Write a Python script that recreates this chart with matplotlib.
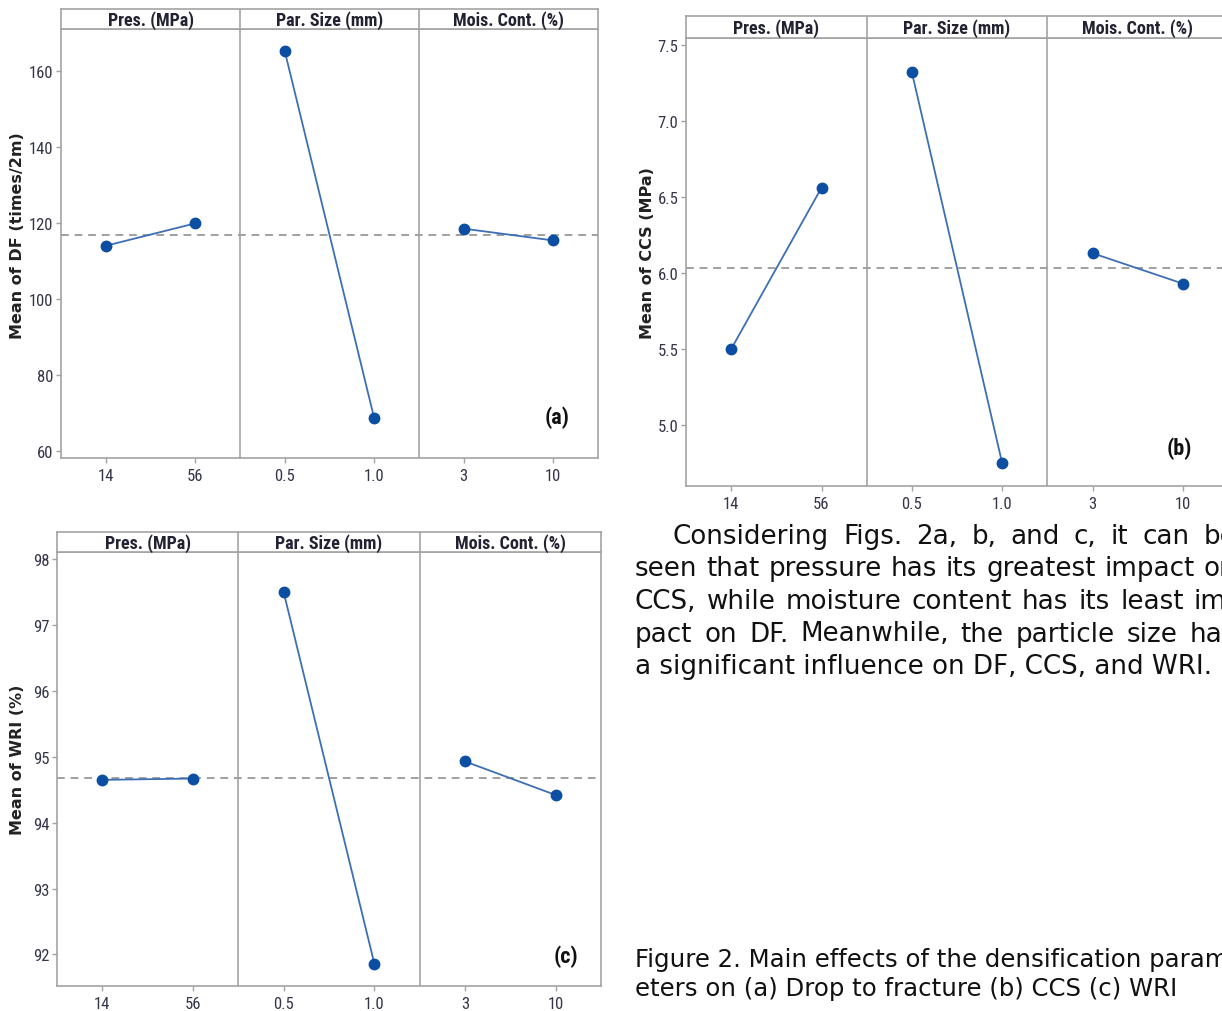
import matplotlib
matplotlib.use("Agg")
import matplotlib.pyplot as plt
from matplotlib import font_manager
import numpy as np

# ---------------- data ----------------
factors = ["Pres. (MPa)", "Par. Size (mm)", "Mois. Cont. (%)"]
level_labels = ["14", "56", "0.5", "1.0", "3", "10"]

df_means = [114.0, 119.9, 165.2, 68.6, 118.5, 115.4]
ccs_means = [5.50, 6.56, 7.32, 4.75, 6.13, 5.93]
wri_means = [94.65, 94.67, 97.50, 91.86, 94.93, 94.42]

df_ticks = [60, 80, 100, 120, 140, 160]
ccs_ticks = [5.0, 5.5, 6.0, 6.5, 7.0, 7.5]
wri_ticks = [92, 93, 94, 95, 96, 97, 98]

body_lines = [
    "Considering Figs. 2a, b, and c, it can be",
    "seen that pressure has its greatest impact on",
    "CCS, while moisture content has its least im-",
    "pact on DF. Meanwhile, the particle size has",
    "a significant influence on DF, CCS, and WRI.",
]
caption_lines = [
    "Figure 2. Main effects of the densification param-",
    "eters on (a) Drop to fracture (b) CCS (c) WRI",
]

# ---------------- styling ----------------
W, H = 1222, 1012
fig = plt.figure(figsize=(W / 100, H / 100), dpi=100)
fig.patch.set_facecolor("white")

available = set(f.name for f in font_manager.fontManager.ttflist)
narrow = "DejaVu Sans"
for cand in ["Roboto Condensed", "PT Sans Narrow", "Fira Sans Condensed",
             "IBM Plex Sans Condensed", "Archivo Narrow", "Barlow Semi Condensed",
             "Encode Sans Condensed", "Asap Condensed", "Liberation Sans Narrow",
             "Open Sans Condensed"]:
    if cand in available:
        narrow = cand
        break

FRAME = "#a3a3a3"
LINE = "#3d6fb5"
MARK = "#0b4ea2"
MEANC = "#a0a0a0"
TICKC = "#34344a"


def px_axes(x0, y0, x1, y1):
    return fig.add_axes([x0 / W, 1 - y1 / H, (x1 - x0) / W, (y1 - y0) / H])


def panel(x0, x1, ytop, yhead, ybot, values, yticks, ylim, fmt, tag, tagpos):
    ax = px_axes(x0, yhead, x1, ybot)
    hx = px_axes(x0, ytop, x1, yhead)
    xs = np.arange(6)
    for k in range(3):
        ax.plot(xs[2 * k:2 * k + 2], values[2 * k:2 * k + 2], color=LINE, lw=1.3, zorder=3)
        ax.plot(xs[2 * k:2 * k + 2], values[2 * k:2 * k + 2], "o", color=MARK,
                ms=7.5, zorder=4)
    ax.axhline(np.mean(values), color=MEANC, ls=(0, (4, 3)), lw=1.4, zorder=2)
    for d in (1.5, 3.5):
        ax.axvline(d, color=FRAME, lw=1.2, zorder=1)
        hx.axvline(d, color=FRAME, lw=1.2)
    ax.set_xlim(-0.5, 5.5)
    ax.set_ylim(*ylim)
    ax.set_xticks(xs)
    ax.set_xticklabels(level_labels)
    ax.set_yticks(yticks)
    ax.set_yticklabels([fmt.format(t) for t in yticks])
    ax.tick_params(axis="both", colors=FRAME, length=3.5, width=1, labelcolor=TICKC,
                   labelsize=12)
    ax.tick_params(axis="x", pad=4)
    ax.tick_params(axis="y", pad=2)
    for lab in ax.get_xticklabels() + ax.get_yticklabels():
        lab.set_family(narrow)
    for s in ax.spines.values():
        s.set_color(FRAME)
        s.set_linewidth(1.2)
    hx.set_xlim(-0.5, 5.5)
    hx.set_ylim(0, 1)
    hx.set_xticks([])
    hx.set_yticks([])
    for s in hx.spines.values():
        s.set_color(FRAME)
        s.set_linewidth(1.2)
    for k, f in enumerate(factors):
        hx.text(0.5 + 2 * k, 0.47, f, ha="center", va="center", fontsize=13,
                family=narrow, color="#222233", fontweight="semibold")
    fig.text(tagpos[0] / W, 1 - tagpos[1] / H, tag, ha="center", va="center",
             fontsize=16, family=narrow, fontweight="bold", color="#111111")
    return ax


# panel (a)
panel(61, 598, 10, 30, 459, df_means, df_ticks, (58.2, 171.0), "{:.0f}", "(a)", (557, 418))
fig.text(18 / W, 1 - 236 / H, "Mean of DF (times/2m)", rotation=90, ha="center",
         va="center", fontsize=11.5, fontweight="bold", color="#222222")

# panel (b)
panel(686, 1228, 17, 39, 487, ccs_means, ccs_ticks, (4.60, 7.544), "{:.1f}", "(b)", (1179, 449))
fig.text(647 / W, 1 - 253 / H, "Mean of CCS (MPa)", rotation=90, ha="center",
         va="center", fontsize=11.5, fontweight="bold", color="#222222")

# panel (c)
panel(57, 601, 533, 553, 987, wri_means, wri_ticks, (91.52, 98.11), "{:.0f}", "(c)", (566, 957))
fig.text(18 / W, 1 - 760 / H, "Mean of WRI (%)", rotation=90, ha="center",
         va="center", fontsize=11.5, fontweight="bold", color="#222222")

# ---------------- justified body text ----------------
renderer = fig.canvas.get_renderer()


def justified(line, x_left, x_right, y, size, justify=True):
    words = line.split(" ")
    if not justify:
        fig.text(x_left / W, 1 - y / H, line, ha="left", va="center", fontsize=size,
                 color="#111111", family="DejaVu Sans")
        return
    arts = []
    widths = []
    for w_ in words:
        t = fig.text(0, 0, w_, ha="left", va="center", fontsize=size,
                     color="#111111", family="DejaVu Sans")
        bb = t.get_window_extent(renderer=renderer)
        arts.append(t)
        widths.append(bb.width)
    gap = (x_right - x_left - sum(widths)) / (len(words) - 1)
    x = x_left
    for t, wd in zip(arts, widths):
        t.set_position((x / W, 1 - y / H))
        x += wd + gap


BODY_SIZE = 18.8
for i, line in enumerate(body_lines):
    x = 673 if i == 0 else 635
    justified(line, x, 1236, 537 + 32.5 * i, BODY_SIZE, justify=(i < len(body_lines) - 1))

for i, line in enumerate(caption_lines):
    fig.text(635 / W, 1 - (960 + 29 * i) / H, line, ha="left", va="center",
             fontsize=17.6, color="#111111", family="DejaVu Sans")

fig.savefig("out.png", dpi=100, facecolor="white")
